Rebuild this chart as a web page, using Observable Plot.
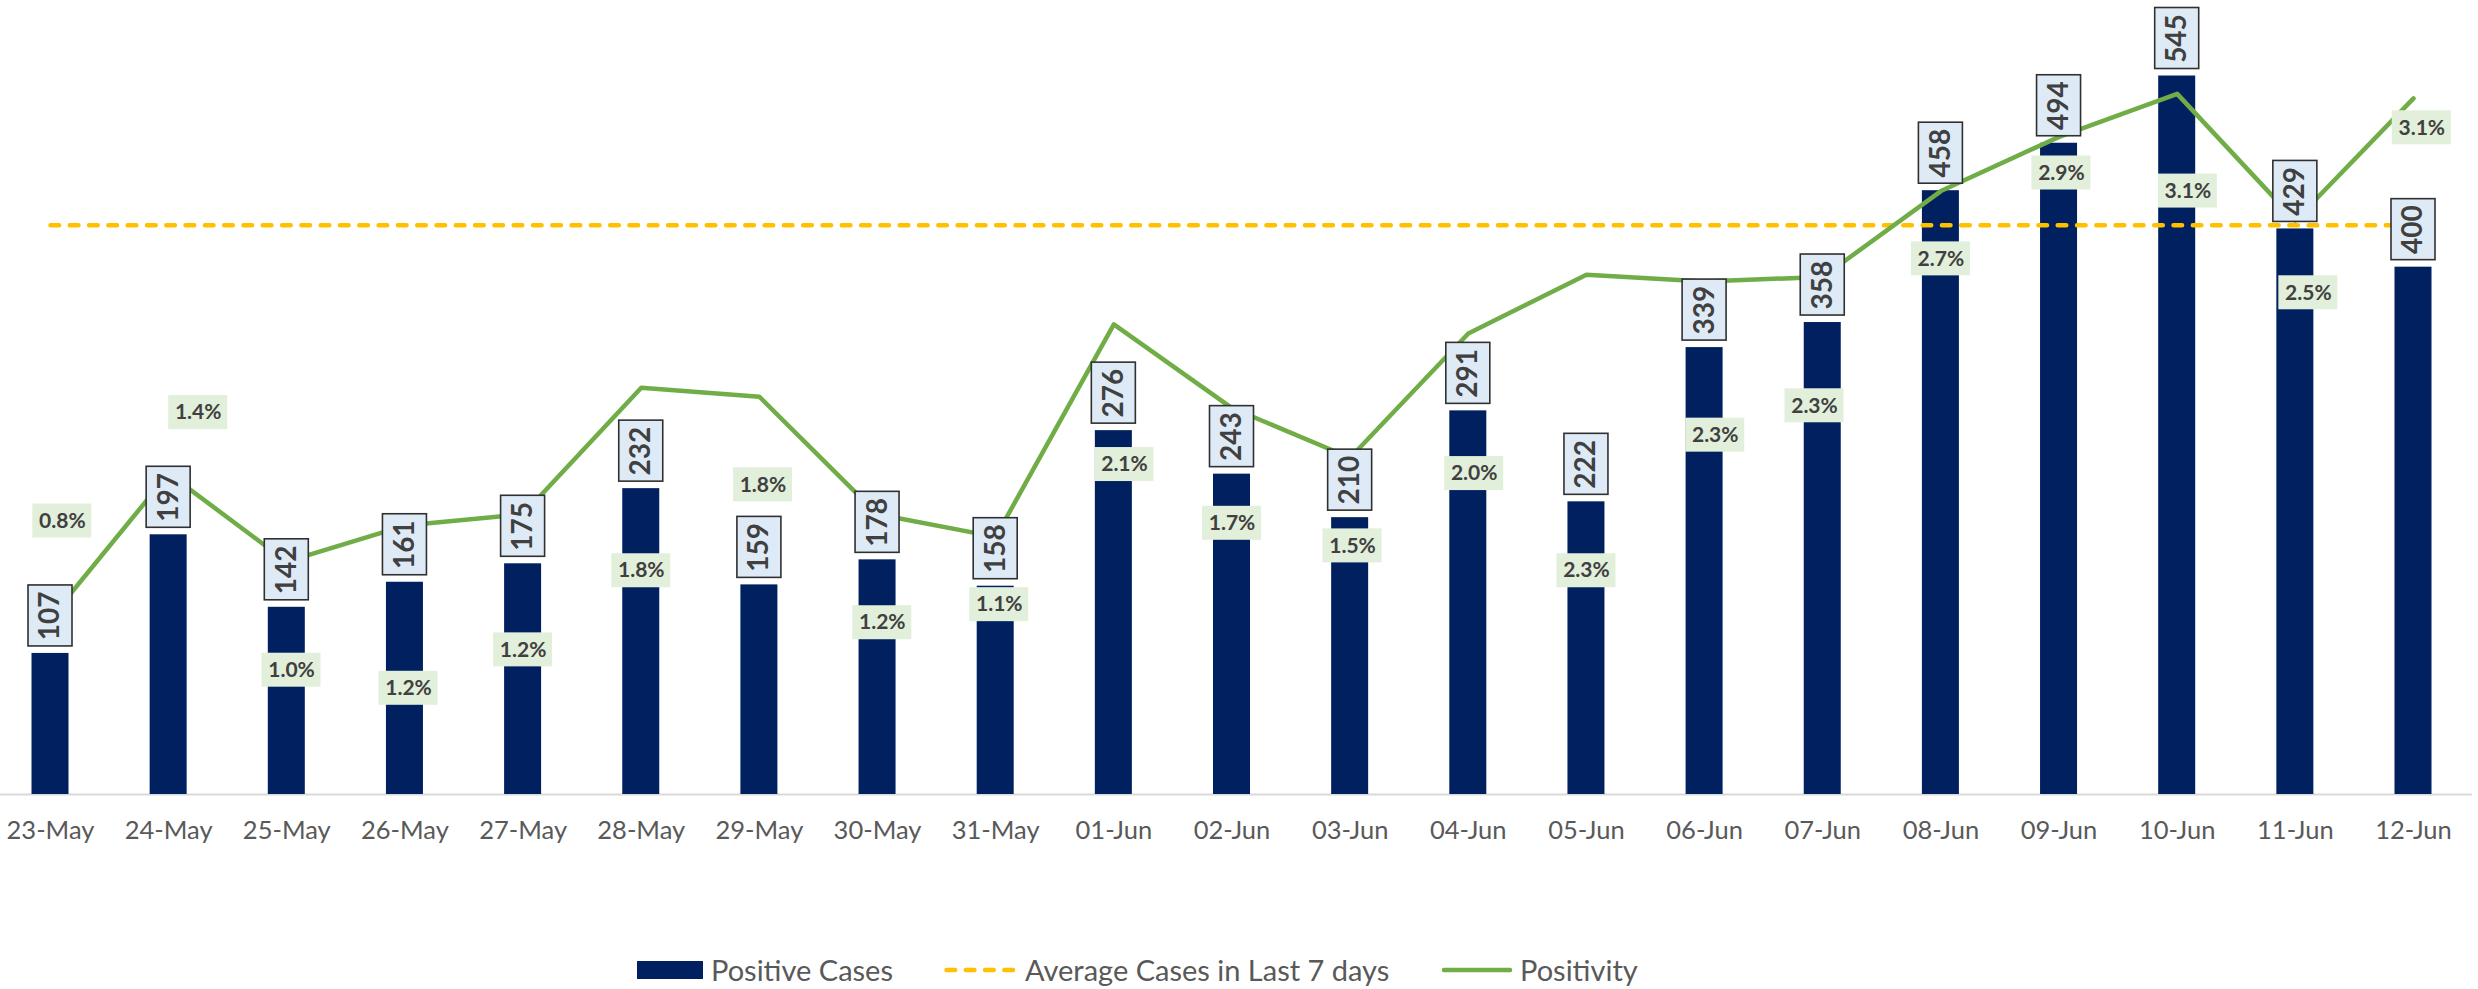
<!DOCTYPE html>
<html>
<head>
<meta charset="utf-8">
<script src="https://cdn.jsdelivr.net/npm/d3@7"></script>
<script src="https://cdn.jsdelivr.net/npm/@observablehq/plot@0.6"></script>
<style>
  html, body { margin: 0; padding: 0; background: #fff; }
  #chart svg { display: block; }
  .legend { position: relative; height: 39px; font-family: Lato, "Open Sans", sans-serif; font-size: 29px; color: #595959; }
  .legend .item { position: absolute; top: 0; height: 39px; display: flex; align-items: center; }
  .legend .sw { display: inline-block; margin-right: 8px; }
</style>
</head>
<body>
<div id="chart"></div>
<div class="legend" id="legend"></div>
<script>
// ---- data ----
const dates = ["23-May","24-May","25-May","26-May","27-May","28-May","29-May","30-May","31-May",
  "01-Jun","02-Jun","03-Jun","04-Jun","05-Jun","06-Jun","07-Jun","08-Jun","09-Jun","10-Jun","11-Jun","12-Jun"];
const positiveCases = [107,197,142,161,175,232,159,178,158,276,243,210,291,222,339,358,458,494,545,429,400];
const positivity = [0.78,1.42,1.03,1.19,1.24,1.80,1.76,1.24,1.14,2.08,1.71,1.49,2.04,2.30,2.27,2.29,2.67,2.91,3.10,2.54,3.08]; // percent
const averageLast7 = d3.mean(positiveCases.slice(-7));

// label placement of the positivity data labels (percent axis units, and category nudges)
const pctLabelAt = [1.21,1.69,0.55,0.47,0.64,0.99,1.37,0.76,0.84,1.46,1.20,1.10,1.42,0.99,1.59,1.72,2.37,2.75,2.67,2.22,2.95];
const pctLabelNudge = [0.10,0.25,0.04,0.03,0,0,0.03,0.04,0.03,0.09,0,0.02,0.05,0,0.09,-0.07,0,0.02,0.09,0.11,0.07];

// ---- layout ----
const W = 2478, H = 950;
const baseY = 794, topY = 3;
const yMax = 600, pctMax = 3.5;
const left = -9.075, right = 2472.075;
const step = (right - left) / dates.length;
const ux = px => px / step;
const uy = px => px * yMax / (baseY - topY);
const toY = p => p * yMax / pctMax;

const data = dates.map((d, i) => ({
  i, date: d, cases: positiveCases[i], p: positivity[i],
  lab: pctLabelAt[i], nudge: pctLabelNudge[i]
}));

const textColor = "#404040";

const chart = Plot.plot({
  width: W, height: H,
  marginLeft: 0, marginRight: 6, marginTop: topY, marginBottom: H - baseY,
  style: { fontFamily: "Lato, 'Open Sans', sans-serif", background: "#fff" },
  x: { type: "linear", domain: [-0.5, dates.length - 0.5], range: [left, right], axis: null },
  y: { domain: [0, yMax], range: [baseY, topY], axis: null },
  marks: [
    Plot.ruleY([0], { stroke: "#d9d9d9", strokeWidth: 2 }),
    Plot.rect(data, {
      x1: d => d.i - ux(18.5), x2: d => d.i + ux(18.5),
      y1: 0, y2: "cases", fill: "#002060"
    }),
    Plot.line([0, dates.length - 1], {
      x: d => d, y: () => averageLast7,
      stroke: "#FFC000", strokeWidth: 4.5, strokeDasharray: "8.6,10.7", strokeLinecap: "round"
    }),
    Plot.line(data, {
      x: "i", y: d => toY(d.p),
      stroke: "#70AD47", strokeWidth: 4.5, strokeLinejoin: "round", strokeLinecap: "round"
    }),
    // bar value labels
    Plot.rect(data, {
      x1: d => d.i - ux(22), x2: d => d.i + ux(22),
      y1: d => d.cases + uy(7), y2: d => d.cases + uy(68),
      fill: "#DEEBF7", stroke: "#303030", strokeWidth: 1.6
    }),
    Plot.text(data, {
      x: "i", y: d => d.cases + uy(37.5), text: d => String(d.cases),
      rotate: -90, fontSize: 28, fontWeight: "bold", fill: textColor,
      textAnchor: "middle", lineAnchor: "middle"
    }),
    // positivity labels
    Plot.rect(data, {
      x1: d => d.i + d.nudge - ux(29.5), x2: d => d.i + d.nudge + ux(29.5),
      y1: d => toY(d.lab) - uy(17), y2: d => toY(d.lab) + uy(17),
      fill: "#E2EFDA"
    }),
    Plot.text(data, {
      x: d => d.i + d.nudge, y: d => toY(d.lab), text: d => d.p.toFixed(1) + "%",
      fontSize: 21, fontWeight: "bold", fill: textColor,
      textAnchor: "middle", lineAnchor: "middle"
    }),
    // category labels
    Plot.text(dates, {
      x: (d, i) => i, y: 0, text: d => d, dy: 36,
      fontSize: 25.5, fill: "#595959", textAnchor: "middle", lineAnchor: "middle"
    })
  ]
});
document.getElementById("chart").appendChild(chart);

// ---- legend ----
const legendItems = [
  { label: "Positive Cases", left: 637, sw: '<span class="sw" style="width:66px;height:18px;background:#002060"></span>' },
  { label: "Average Cases in Last 7 days", left: 944, sw: '<svg class="sw" width="73" height="10"><line x1="2.5" x2="71" y1="5" y2="5" stroke="#FFC000" stroke-width="4.5" stroke-linecap="round" stroke-dasharray="8.6,10.7"/></svg>' },
  { label: "Positivity", left: 1442, sw: '<svg class="sw" width="70" height="10"><line x1="2" x2="68" y1="5" y2="5" stroke="#70AD47" stroke-width="4.5" stroke-linecap="round"/></svg>' }
];
const leg = document.getElementById("legend");
for (const it of legendItems) {
  const el = document.createElement("div");
  el.className = "item";
  el.style.left = it.left + "px";
  el.innerHTML = it.sw + "<span>" + it.label + "</span>";
  leg.appendChild(el);
}
</script>
</body>
</html>
